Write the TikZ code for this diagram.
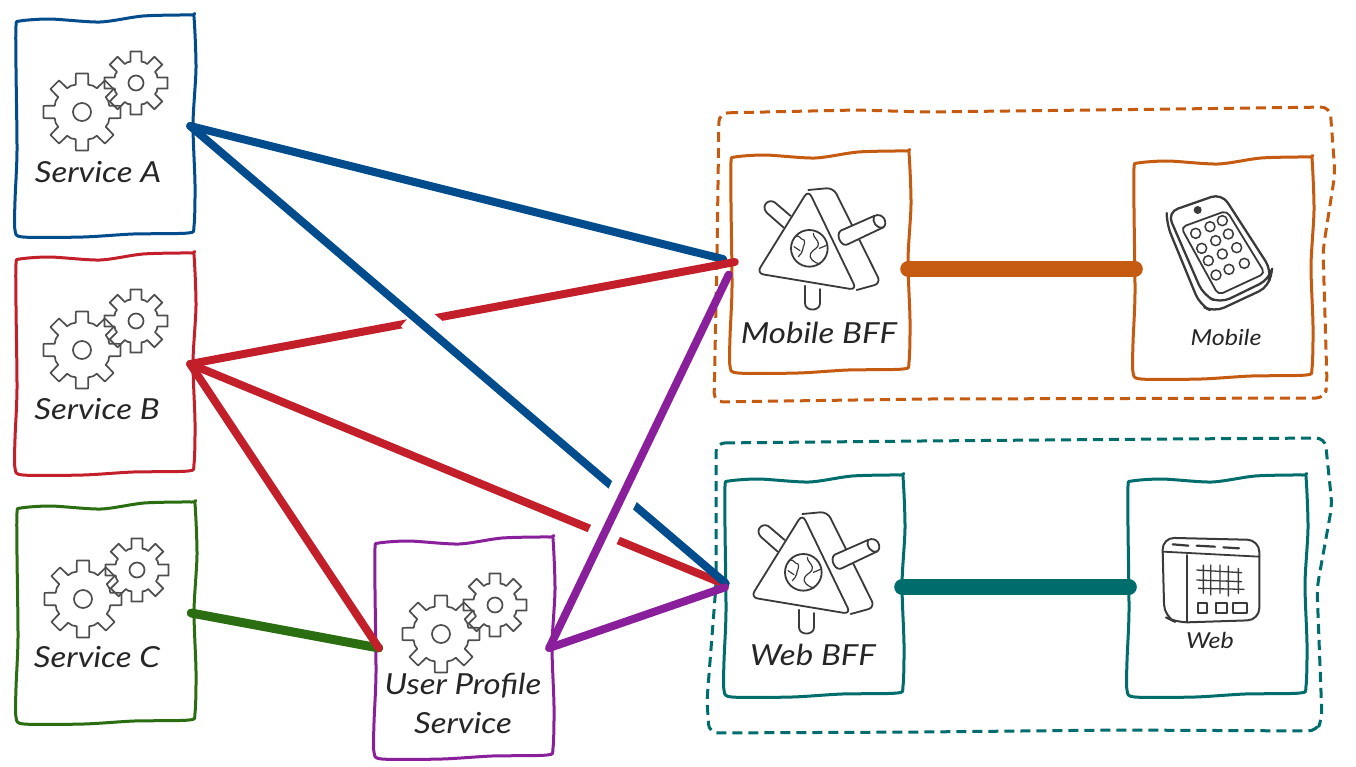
\documentclass[tikz,border=0pt]{standalone}
\usepackage{fontspec}
\setmainfont{Lato}
\newfontfamily\labelfont[FakeStretch=1.14,ItalicFeatures={FakeStretch=1.14}]{Lato}
\usetikzlibrary{calc}
\definecolor{cblue}{HTML}{004C8C}
\definecolor{cred}{HTML}{C21F2B}
\definecolor{cgreen}{HTML}{2B6E12}
\definecolor{cpurple}{HTML}{8A1F9B}
\definecolor{corange}{HTML}{C55A11}
\definecolor{cteal}{HTML}{006D6D}
\definecolor{cink}{HTML}{3A3A3A}
\tikzset{
  anchorbox/.style={draw=none,minimum width=170pt,minimum height=210pt,inner sep=0pt},
  boxline/.style={line width=3pt,line join=round,fill=white},
  iconline/.style={draw=cink,line width=1.8pt,line join=round,line cap=round},
  gearline/.style={draw=cink!90,line width=1.7pt,line join=round},
  biglabel/.style={text=black!85,font=\labelfont\itshape\fontsize{29}{33}\selectfont,inner sep=0pt},
  smalllabel/.style={text=black!85,font=\labelfont\itshape\fontsize{22}{25}\selectfont,inner sep=0pt},
  conn/.style={line width=8pt,line cap=round},
  thick conn/.style={line width=16pt,line cap=round},
  halo/.style={draw=white,line width=31pt,line cap=butt},
  dashbox/.style={line width=3pt,dash pattern=on 10pt off 6pt,rounded corners=9pt,line join=round},
}
\newcommand\wobblebox[2]{%
  \draw[boxline,draw=#2,shift={(#1.center)}] plot[smooth cycle,tension=.45] coordinates {
    (-89,-100) (-85,-105) (-55,-107) (-5,-104) (38,-110) (86,-111) (89,-109)
    (91,-58) (88,-2) (90,58) (89,100) (83,107) (28,108) (-22,111) (-82,111) (-90,104)
    (-90,75) (-88,25) (-89,-58)};}
\newcommand\gearicon[4]{% outer root rot halfangle
  \draw[gearline] ({#3-#4*1.45}:#2) \foreach \a in {0,45,...,315} {
     -- ({\a+#3-#4*1.45}:#2) -- ({\a+#3-#4}:#1) -- ({\a+#3+#4}:#1) -- ({\a+#3+#4*1.45}:#2) -- ({\a+#3+22.5}:#2+0.5)
  } -- cycle;}
\newcommand\gearpair[1]{%
  \begin{scope}[shift={(#1)}]
    \begin{scope}[shift={(-23,-14)}]
      \gearicon{39}{28}{0}{9}
      \draw[gearline] (0,0) circle (9);
    \end{scope}
    \begin{scope}[shift={(31,-43)}]
      \gearicon{32}{22}{0}{10}
      \draw[gearline] (0,0) circle (7.5);
    \end{scope}
  \end{scope}}
\newcommand\bfficon[1]{%
  \begin{scope}[shift={(#1)},shift={(-100,-122)},scale=1/3]
    \draw[iconline] (255,437) -- (255,490) .. controls (255,515) and (300,515) .. (300,490) -- (300,447);
    \draw[iconline] (190,262) -- (140,218) .. controls (120,195) and (150,170) .. (170,192) -- (212,228);
    \draw[iconline,rounded corners=7pt] (265,150) -- (110,400) -- (410,450) -- cycle;
    \draw[iconline,rounded corners=7pt] (265,150) -- (340,143) -- (483,430) -- (410,450);
    \draw[iconline,fill=white] (362,272) .. controls (345,285) and (365,325) .. (385,312) -- (490,262)
       .. controls (505,250) and (490,215) .. (462,228) -- cycle;
    \draw[iconline] (462,228) .. controls (455,245) and (470,268) .. (490,262);
    \draw[iconline] (268,325) circle (55);
    \draw[iconline,line width=1.2pt] (230,290) to[out=60,in=180] (252,300) to[out=-60,in=90] (248,330) to[out=-90,in=60] (235,350);
    \draw[iconline,line width=1.2pt] (280,280) to[out=-90,in=100] (295,310) to[out=-80,in=60] (272,340) to[out=-120,in=170] (300,372);
    \draw[iconline,line width=1.2pt] (222,320) -- (240,332);
    \draw[iconline,line width=1.2pt] (298,325) -- (320,316);
  \end{scope}}
\begin{document}
\begin{tikzpicture}[x=1pt,y=-1pt]
\useasboundingbox (0,0) rectangle (1356,766);
\fill[white] (0,0) rectangle (1356,766);

% dashed containers
\node[draw=none,minimum width=610pt,minimum height=285pt] (mgroup) at (1025,255) {};
\node[draw=none,minimum width=610pt,minimum height=285pt] (wgroup) at (1020,585) {};
\draw[dashbox,draw=corange,shift={(mgroup.center)}]
  (-306,-142) -- (-168,-145) -- (-100,-143) -- (150,-146) -- (305,-148) -- (310,-82) -- (298,-5) -- (302,128) -- (300,143) -- (-100,144) -- (-311,147) -- (-308,0) -- cycle;
\draw[dashbox,draw=cteal,shift={(wgroup.center)}]
  (-304,-142) -- (-100,-144) -- (150,-146) -- (305,-147) -- (312,-80) -- (297,3) -- (302,133) -- (297,146) -- (100,145) -- (-100,147) -- (-311,148) -- (-313,115) -- (-304,0) -- cycle;

% boxes
\node[anchorbox] (svca) at (105,126) {};
\node[anchorbox] (svcb) at (105,364) {};
\node[anchorbox] (svcc) at (106,613) {};
\node[anchorbox] (user) at (464,648) {};
\node[anchorbox] (mbff) at (820,262) {};
\node[anchorbox] (phone) at (1223,268) {};
\node[anchorbox] (wbff) at (814,586) {};
\node[anchorbox] (web) at (1217,586) {};
\wobblebox{svca}{cblue}
\wobblebox{svcb}{cred}
\wobblebox{svcc}{cgreen}
\wobblebox{user}{cpurple}
\wobblebox{mbff}{corange}
\wobblebox{phone}{corange}
\wobblebox{wbff}{cteal}
\wobblebox{web}{cteal}

% icons
\gearpair{svca.center}
\gearpair{svcb.center}
\gearpair{svcc.center}
\begin{scope}[shift={(5,-8)}]\gearpair{user.center}\end{scope}
\bfficon{mbff.center}
\bfficon{wbff.center}

% phone
\begin{scope}[shift={(phone.center)},shift={(-103,-118)},scale=1/3]
  \draw[iconline,line width=2.3pt,rounded corners=11pt] (142,187) -- (305,130) -- (455,362) -- (448,388) -- (300,460) -- (250,435) -- cycle;
  \draw[iconline,line width=2.3pt,rounded corners=11pt] (140,195) -- (140,222) -- (240,465) -- (282,487) -- (447,410) -- (455,362);
  \draw[iconline,rounded corners=5pt] (183,232) -- (320,182) -- (435,370) -- (295,435) -- cycle;
  \fill[cink] (233,180) circle (12);
  \foreach \px/\py in {227/250,270/230,307/212,245/295,287/272,325/252,265/332,307/312,350/293,288/375,327/358,373/340}
    \draw[iconline,line width=1.5pt] (\px,\py) circle (15);
\end{scope}

% web window
\begin{scope}[shift={(web.center)},shift={(-97,-116)},scale=1/3]
  \draw[iconline,line width=2pt,rounded corners=12pt] (127,203) -- (418,210) -- (418,450) -- (170,458) -- (133,440) -- cycle;
  \draw[iconline] (130,245) -- (418,260);
  \draw[iconline] (200,255) -- (200,455);
  \draw[iconline,line width=2.2pt] (158,223) -- (205,227) (230,227) -- (285,230) (310,232) -- (357,235);
  \draw[iconline,line width=1.3pt] (230,300) -- (365,308) (230,330) -- (365,335) (235,355) -- (372,358)
     (250,285) -- (250,370) (272,285) -- (272,375) (300,285) -- (300,370) (325,288) -- (325,378) (355,295) -- (355,370);
  \draw[iconline] (233,400) rectangle (262,428) (287,400) rectangle (320,428) (340,400) rectangle (380,430);
\end{scope}

% labels
\node[biglabel] (la) at (98,172) {Service A};
\node[biglabel] (lb) at (97,409) {Service B};
\node[biglabel] (lc) at (97,657) {Service C};
\node[biglabel,align=center,font=\labelfont\itshape\fontsize{29}{39}\selectfont] (lu) at (463,703) {User Profile\\Service};
\node[biglabel] (lm) at (819,333) {Mobile BFF};
\node[biglabel] (lw) at (813,655) {Web BFF};
\node[smalllabel] (lp) at (1226,337) {Mobile};
\node[smalllabel] (lwb) at (1210,640) {Web};

% connectors
\draw[conn,draw=cblue,shorten >=12pt] (svca.east) -- (mbff.west);
\draw[conn,draw=cgreen,line width=9pt] (svcc.east) -- (user.west);
\draw[conn,draw=cred] (svcb.east) -- (user.west);
\draw[conn,draw=cred] (svcb.east) -- (mbff.west);
\draw[conn,draw=cred,shorten >=4pt] (svcb.east) -- (wbff.west);
\draw[halo] ($(svca.east)!0.41!(wbff.west)$) -- ($(svca.east)!0.46!(wbff.west)$);
\draw[conn,draw=cblue,shorten >=4pt] (svca.east) -- (wbff.west);
\draw[halo] ($(user.east)!0.25!(mbff.west)$) -- ($(user.east)!0.42!(mbff.west)$);
\draw[conn,draw=cpurple,shorten >=14pt] (user.east) -- (mbff.west);
\draw[conn,draw=cpurple,shorten >=4pt] (user.east) -- (wbff.west);
\draw[thick conn,draw=corange,shorten <=3pt,shorten >=3pt] ([yshift=-7pt]mbff.east) -- ([yshift=-1pt]phone.west);
\draw[thick conn,draw=cteal,shorten <=3pt,shorten >=3pt] ([yshift=-1pt]wbff.east) -- ([yshift=-1pt]web.west);
\end{tikzpicture}
\end{document}
